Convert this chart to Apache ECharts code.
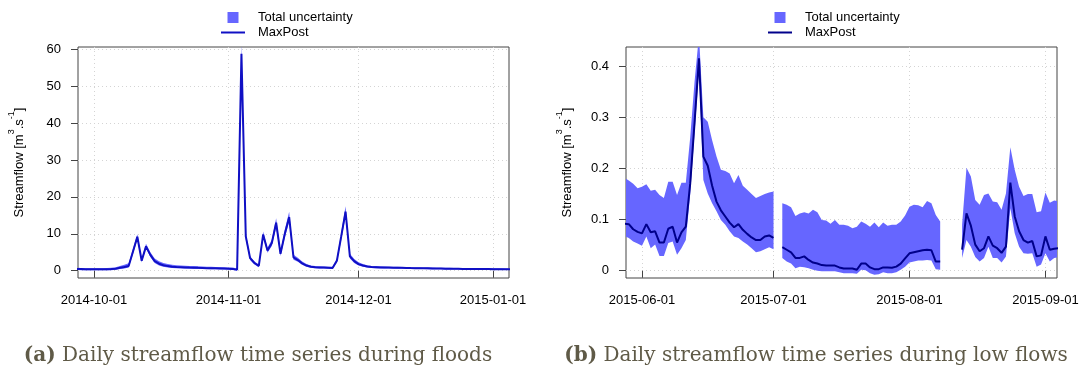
<!DOCTYPE html>
<html>
<head>
<meta charset="utf-8">
<script src="https://cdn.jsdelivr.net/npm/echarts@6/dist/echarts.min.js"></script>
<style>
  html, body { margin: 0; padding: 0; background: #fff; }
  #chart { width: 1083px; height: 374px; }
</style>
</head>
<body>
<div id="chart"></div>
<script>
// ---- Panel (a): flood period, one value per day starting at floodStart ----
const floodStart = '2014-09-27';
const floodMaxPost = [
  0.5, 0.45, 0.4, 0.4,
  0.4, 0.38, 0.38, 0.4, 0.45, 0.55, 0.8, 1.0, 1.3, 5.2,
  9.2, 2.7, 6.6, 4.3, 2.6, 1.9, 1.5, 1.25, 1.1, 1.0,
  0.95, 0.9, 0.85, 0.82, 0.78, 0.75, 0.7, 0.68, 0.65, 0.62,
  0.6, 0.55, 0.5, 0.3, 58.8, 9.3, 3.4, 2.1, 1.3, 9.8,
  5.5, 7.5, 13.0, 4.6, 10.0, 14.5, 3.6, 2.9, 2.0, 1.4,
  1.1, 0.95, 0.9, 0.85, 0.8, 0.75, 2.7, 9.3, 16.0, 3.9,
  2.6, 1.8, 1.4, 1.15, 1.0, 0.95, 0.9, 0.88, 0.85, 0.82,
  0.8, 0.78, 0.75, 0.72, 0.7, 0.68, 0.66, 0.64, 0.62, 0.6,
  0.58, 0.56, 0.55, 0.54, 0.52, 0.5, 0.49, 0.48, 0.47, 0.46,
  0.45, 0.44, 0.43, 0.42, 0.42, 0.41, 0.4
];
const floodUpper = [
  0.8, 0.75, 0.7, 0.7,
  0.7, 0.68, 0.68, 0.72, 0.8, 0.95, 1.3, 1.6, 2.0, 6.0,
  9.9, 3.3, 7.3, 5.0, 3.3, 2.6, 2.1, 1.8, 1.6, 1.5,
  1.4, 1.35, 1.3, 1.25, 1.2, 1.15, 1.1, 1.05, 1.0, 0.98,
  0.95, 0.9, 0.85, 0.6, 61.5, 10.2, 3.9, 2.5, 1.7, 10.6,
  6.2, 8.4, 14.2, 5.3, 11.2, 16.0, 4.3, 3.5, 2.5, 1.8,
  1.45, 1.3, 1.2, 1.15, 1.1, 1.05, 3.3, 10.3, 17.5, 4.6,
  3.2, 2.3, 1.8, 1.5, 1.3, 1.25, 1.2, 1.15, 1.1, 1.08,
  1.05, 1.02, 1.0, 0.98, 0.95, 0.92, 0.9, 0.88, 0.86, 0.84,
  0.82, 0.8, 0.78, 0.76, 0.75, 0.73, 0.72, 0.7, 0.69, 0.68,
  0.67, 0.66, 0.65, 0.64, 0.64, 0.63, 0.62
];
const floodLower = [
  0.2, 0.1, 0.1, 0.12,
  0.12, 0.1, 0.1, 0.12, 0.15, 0.25, 0.45, 0.6, 0.9, 4.5,
  8.4, 2.2, 6.0, 3.7, 2.1, 1.4, 1.1, 0.9, 0.75, 0.7,
  0.65, 0.6, 0.55, 0.52, 0.5, 0.48, 0.45, 0.42, 0.4, 0.38,
  0.35, 0.3, 0.2, -0.1, 55.5, 8.4, 2.9, 1.7, 0.95, 9.0,
  4.9, 6.7, 11.8, 4.0, 9.0, 13.2, 3.0, 2.4, 1.6, 1.1,
  0.8, 0.65, 0.6, 0.58, 0.55, 0.5, 2.2, 8.3, 14.6, 3.3,
  2.1, 1.4, 1.05, 0.85, 0.75, 0.7, 0.65, 0.62, 0.6, 0.58,
  0.56, 0.54, 0.52, 0.5, 0.48, 0.46, 0.45, 0.43, 0.42, 0.4,
  0.38, 0.36, 0.35, 0.34, 0.33, 0.32, 0.31, 0.3, 0.29, 0.28,
  0.27, 0.26, 0.25, 0.24, 0.24, 0.23, 0.22
];
const floodTicks = ['2014-10-01', '2014-11-01', '2014-12-01', '2015-01-01'];
const floodYTicks = [0, 10, 20, 30, 40, 50, 60];

// ---- Panel (b): low-flow period, one value per day, null = no record ----
const lowStart = '2015-05-28';
const lowMaxPost = [
  0.092, 0.091, 0.081, 0.076,
  0.073, 0.091, 0.075, 0.077, 0.055, 0.055, 0.082, 0.086, 0.055, 0.075,
  0.086, 0.17, 0.29, 0.415, 0.223, 0.205, 0.166, 0.135, 0.118, 0.106,
  0.094, 0.085, 0.091, 0.080, 0.072, 0.065, 0.060, 0.060, 0.067, 0.069,
  0.064, null, 0.046, 0.041, 0.036, 0.025, 0.025, 0.028, 0.021, 0.016,
  0.014, 0.011, 0.010, 0.010, 0.010, 0.0065, 0.0045, 0.0045, 0.0045, 0.002,
  0.014, 0.014, 0.0065, 0.003, 0.003, 0.0065, 0.0065, 0.006, 0.008, 0.014,
  0.024, 0.034, 0.036, 0.038, 0.040, 0.041, 0.040, 0.018, 0.018, null,
  null, null, null, 0.041, 0.112, 0.088, 0.051, 0.038, 0.044, 0.067,
  0.049, 0.044, 0.035, 0.047, 0.172, 0.106, 0.077, 0.060, 0.055, 0.058,
  0.028, 0.030, 0.067, 0.041, 0.043, 0.044
];
const lowUpper = [
  0.182, 0.176, 0.170, 0.161,
  0.164, 0.169, 0.156, 0.158, 0.148, 0.142, 0.174, 0.174, 0.148, 0.172,
  0.172, 0.26, 0.37, 0.46, 0.30, 0.291, 0.255, 0.223, 0.197, 0.195,
  0.19, 0.171, 0.187, 0.166, 0.158, 0.15, 0.142, 0.146, 0.15, 0.153,
  0.155, null, 0.132, 0.129, 0.124, 0.107, 0.112, 0.114, 0.112, 0.119,
  0.114, 0.099, 0.098, 0.092, 0.099, 0.090, 0.090, 0.088, 0.083, 0.086,
  0.096, 0.092, 0.086, 0.094, 0.085, 0.094, 0.088, 0.09, 0.09, 0.096,
  0.108, 0.125, 0.129, 0.128, 0.124, 0.136, 0.132, 0.109, 0.096, null,
  null, null, null, 0.09, 0.201, 0.184, 0.138, 0.129, 0.148, 0.151,
  0.135, 0.134, 0.119, 0.151, 0.241, 0.197, 0.164, 0.146, 0.15, 0.15,
  0.114, 0.116, 0.153, 0.133, 0.137, 0.136
];
const lowLower = [
  0.068, 0.064, 0.057, 0.053,
  0.049, 0.067, 0.044, 0.051, 0.029, 0.029, 0.054, 0.057, 0.031, 0.044,
  0.06, 0.15, 0.27, 0.39, 0.177, 0.151, 0.132, 0.116, 0.099, 0.09,
  0.077, 0.067, 0.064, 0.057, 0.051, 0.044, 0.036, 0.038, 0.042, 0.046,
  0.042, null, 0.025, 0.018, 0.014, 0.005, 0.008, 0.007, 0.005, 0.002,
  0.000, -0.001, -0.001, -0.001, -0.001, -0.003, -0.005, -0.005, -0.005, -0.006,
  0.002, 0.001, -0.005, -0.008, -0.007, -0.003, -0.005, -0.005, -0.003, 0.002,
  0.008, 0.016, 0.018, 0.02, 0.02, 0.021, 0.02, 0.003, 0.002, null,
  null, null, null, 0.025, 0.06, 0.047, 0.027, 0.018, 0.025, 0.047,
  0.025, 0.025, 0.016, 0.028, 0.122, 0.073, 0.047, 0.034, 0.033, 0.034,
  0.008, 0.012, 0.034, 0.018, 0.025, 0.026
];
const lowTicks = ['2015-06-01', '2015-07-01', '2015-08-01', '2015-09-01'];
const lowYTicks = [0, 0.1, 0.2, 0.3, 0.4];

// ---- Text ----
const legendNames = ['Total uncertainty', 'MaxPost'];
const captionTags = ['(a)', '(b)'];
const captions = [
  'Daily streamflow time series during floods',
  'Daily streamflow time series during low flows'
];

// ---- Drawing ----
const DAY = 86400000;
const SANS = "'Liberation Sans', Arial, Helvetica, sans-serif";
const SERIF = "'DejaVu Serif', 'Liberation Serif', serif";
const BAND = '#6666ff';
const FRAME = '#444444';
const CAPTION = '#5f5a47';

const tsOf = s => Date.parse(s + 'T00:00:00Z');
const dayTs = (start, i) => tsOf(start) + i * DAY;
const pairs = (start, arr) => arr.map((v, i) => [dayTs(start, i), v]);

// contiguous runs of days where both bounds are recorded: [firstIndex, lastIndex]
function runs(lo, up) {
  const out = [];
  let s = -1;
  for (let i = 0; i <= up.length; i++) {
    const ok = i < up.length && up[i] != null && lo[i] != null;
    if (ok && s < 0) s = i;
    if (!ok && s >= 0) { out.push([s, i - 1]); s = -1; }
  }
  return out;
}

function fmtDate(v) {
  const d = new Date(v);
  return d.getUTCFullYear() + '-' +
    String(d.getUTCMonth() + 1).padStart(2, '0') + '-' +
    String(d.getUTCDate()).padStart(2, '0');
}

const SQUARE_ICON = 'path://M0,0M32,11M6.5,0L17.5,0L17.5,11L6.5,11Z';
const LINE_ICON = 'path://M0,0M32,11M0,4.5L24,4.5L24,6.5L0,6.5Z';

const panels = [
  {
    left: 78, start: floodStart, mp: floodMaxPost, up: floodUpper, lo: floodLower,
    xMin: tsOf('2014-10-01') - 3.68 * DAY, xMax: tsOf('2015-01-01') + 3.68 * DAY,
    yMin: -1.97, yMax: 60.62, xTicks: floodTicks, yTicks: floodYTicks,
    lineColor: '#1010c4', legendLeft: 221, captionX: 258
  },
  {
    left: 626, start: lowStart, mp: lowMaxPost, up: lowUpper, lo: lowLower,
    xMin: tsOf('2015-06-01') - 3.64 * DAY, xMax: tsOf('2015-08-31') + 3.64 * DAY,
    yMin: -0.0142, yMax: 0.437, xTicks: lowTicks, yTicks: lowYTicks,
    lineColor: '#00008b', legendLeft: 768, captionX: 816
  }
];

const option = {
  animation: false,
  backgroundColor: '#ffffff',
  grid: [], xAxis: [], yAxis: [], series: [], legend: [], title: []
};

panels.forEach((p, k) => {
  const xt = p.xTicks.map(tsOf);
  option.grid.push({
    left: p.left, top: 47, width: 431, height: 231,
    show: true, borderColor: FRAME, borderWidth: 1, backgroundColor: 'transparent'
  });
  // dates are plotted as UTC timestamps on a numeric axis with month-start ticks
  option.xAxis.push({
    type: 'value', gridIndex: k, min: p.xMin, max: p.xMax,
    axisLine: { show: false },
    axisTick: { show: true, length: 7, customValues: xt, lineStyle: { color: FRAME, width: 1 } },
    axisLabel: {
      customValues: xt, formatter: fmtDate, margin: 16,
      fontSize: 13, fontFamily: SANS, color: '#000'
    },
    splitLine: { show: true, lineStyle: { color: '#d4d4d4', width: 1, type: [1, 3] } }
  });
  option.yAxis.push({
    type: 'value', gridIndex: k, min: p.yMin, max: p.yMax,
    axisLine: { show: false },
    axisTick: { show: true, length: 7, customValues: p.yTicks, lineStyle: { color: FRAME, width: 1 } },
    axisLabel: {
      customValues: p.yTicks, margin: 17,
      fontSize: 13, fontFamily: SANS, color: '#000'
    },
    splitLine: { show: true, lineStyle: { color: '#d4d4d4', width: 1, type: [1, 3] } },
    name: '{t|Streamflow [m}{s|3}{t|.s}{s|-1}{t|]}',
    nameLocation: 'middle', nameGap: 52, nameRotate: 90,
    nameTextStyle: {
      rich: {
        t: { fontSize: 13, fontFamily: SANS, color: '#000', lineHeight: 19, verticalAlign: 'bottom' },
        s: { fontSize: 9, fontFamily: SANS, color: '#000', lineHeight: 10, verticalAlign: 'top' }
      }
    }
  });
  // uncertainty band: one filled polygon per run of recorded days
  const segs = runs(p.lo, p.up);
  option.series.push({
    name: legendNames[0], type: 'custom', xAxisIndex: k, yAxisIndex: k,
    clip: true, silent: true, z: 2,
    itemStyle: { color: BAND },
    data: segs.map(s => [dayTs(p.start, s[0]), p.lo[s[0]], s[0], s[1]]),
    encode: { x: 0, y: 1 },
    renderItem: function (params, api) {
      const s = segs[params.dataIndex];
      const pts = [];
      for (let i = s[0]; i <= s[1]; i++) pts.push(api.coord([dayTs(p.start, i), p.up[i]]));
      for (let i = s[1]; i >= s[0]; i--) pts.push(api.coord([dayTs(p.start, i), p.lo[i]]));
      return { type: 'polygon', shape: { points: pts }, style: { fill: BAND, stroke: null } };
    }
  });
  option.series.push({
    name: legendNames[1], type: 'line', xAxisIndex: k, yAxisIndex: k,
    data: pairs(p.start, p.mp), symbol: 'none', silent: true, connectNulls: false,
    itemStyle: { color: p.lineColor }, lineStyle: { color: p.lineColor, width: 2 }, z: 3
  });
  option.legend.push({
    orient: 'vertical', left: p.legendLeft, top: 11, padding: 0,
    itemWidth: 32, itemHeight: 11, itemGap: 2, selectedMode: false,
    textStyle: { fontSize: 13, fontFamily: SANS, color: '#000' },
    data: [
      { name: legendNames[0], icon: SQUARE_ICON, itemStyle: { color: BAND, borderWidth: 0 } },
      { name: legendNames[1], icon: LINE_ICON, itemStyle: { color: p.lineColor, borderWidth: 0 } }
    ]
  });
  option.title.push({
    left: p.captionX, top: 346, textAlign: 'center', padding: 0,
    text: '{b|' + captionTags[k] + '} ' + captions[k],
    textStyle: {
      fontFamily: SERIF, fontSize: 20, fontWeight: 'normal', color: CAPTION,
      rich: { b: { fontFamily: SERIF, fontSize: 20, fontWeight: 'bold', color: CAPTION } }
    }
  });
});

const chart = echarts.init(document.getElementById('chart'), null, { renderer: 'canvas' });
chart.setOption(option);
</script>
</body>
</html>
